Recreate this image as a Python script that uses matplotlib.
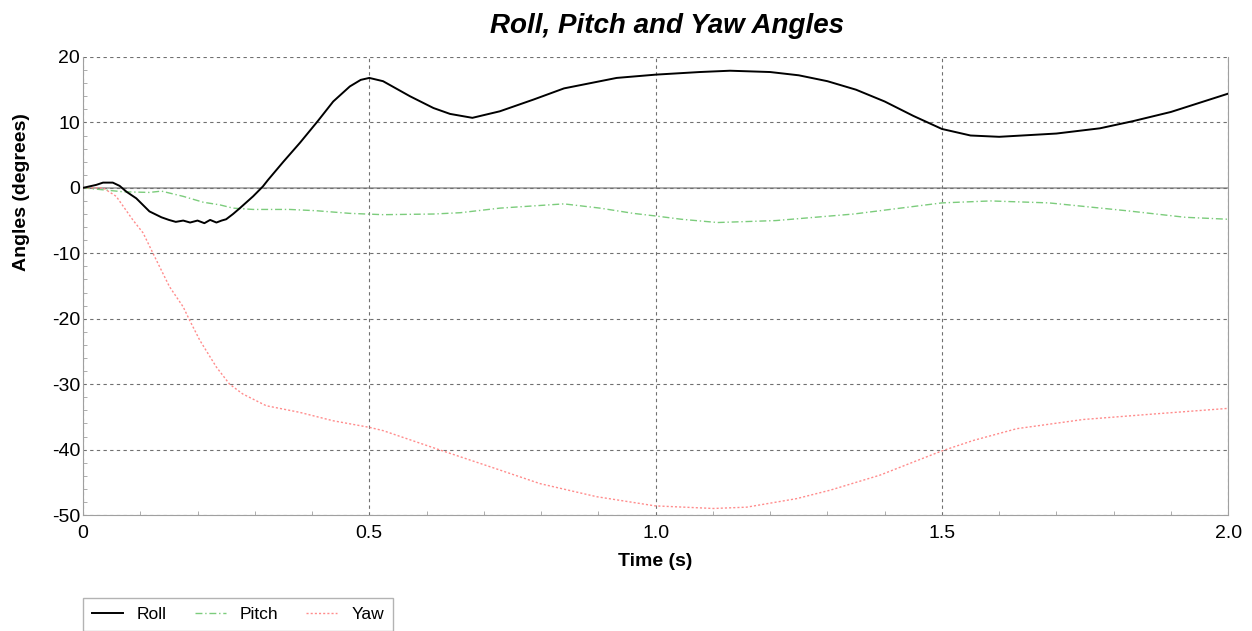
import matplotlib
matplotlib.use("Agg")
import matplotlib.pyplot as plt
from matplotlib.ticker import MultipleLocator, FixedFormatter, FixedLocator
import numpy as np

plt.rcParams['font.family'] = ['Liberation Sans', 'DejaVu Sans']
plt.rcParams['axes.unicode_minus'] = False

# values
roll_t = [0.0, 0.023, 0.035, 0.052, 0.064, 0.076, 0.093, 0.116, 0.137, 0.15, 0.162,
          0.175, 0.187, 0.2, 0.212, 0.222, 0.233, 0.242, 0.25, 0.262, 0.274, 0.297,
          0.314, 0.323, 0.35, 0.379, 0.41, 0.437, 0.466, 0.485, 0.5, 0.524, 0.571, 0.612,
          0.641, 0.68, 0.728, 0.787, 0.84, 0.932, 1.0, 1.077, 1.13, 1.2, 1.25, 1.3,
          1.35, 1.4, 1.45, 1.5, 1.55, 1.6, 1.7, 1.776, 1.834, 1.9, 2.0]
roll = [0.0, 0.45, 0.8, 0.8, 0.3, -0.6, -1.6, -3.6, -4.5, -4.9, -5.2,
        -5.0, -5.3, -5.0, -5.4, -4.9, -5.3, -5.0, -4.8, -4.0, -3.1, -1.3,
        0.2, 1.2, 4.0, 6.9, 10.2, 13.2, 15.5, 16.5, 16.8, 16.3, 14.0, 12.2,
        11.3, 10.7, 11.7, 13.5, 15.2, 16.8, 17.3, 17.7, 17.9, 17.7, 17.2, 16.3,
        15.0, 13.2, 11.0, 9.0, 8.0, 7.8, 8.3, 9.1, 10.2, 11.6, 14.4]

pitch_t = [0.0, 0.035, 0.07, 0.116, 0.137, 0.175, 0.21, 0.239, 0.262, 0.297, 0.361,
           0.408, 0.466, 0.524, 0.612, 0.659, 0.728, 0.84, 0.903, 0.961, 1.0, 1.045,
           1.108, 1.21, 1.346, 1.5, 1.585, 1.687, 1.823, 1.925, 2.0]
pitch = [0.0, -0.3, -0.6, -0.7, -0.5, -1.3, -2.2, -2.6, -3.1, -3.3, -3.3,
         -3.5, -3.9, -4.1, -4.0, -3.8, -3.1, -2.45, -3.1, -3.9, -4.3, -4.8,
         -5.3, -5.0, -4.0, -2.3, -2.0, -2.3, -3.5, -4.5, -4.8]

yaw_t = [0.0, 0.035, 0.058, 0.087, 0.105, 0.125, 0.151, 0.175, 0.186, 0.204, 0.233,
         0.256, 0.279, 0.32, 0.378, 0.437, 0.5, 0.524, 0.618, 0.717, 0.798, 0.897,
         0.999, 1.101, 1.159, 1.246, 1.305, 1.392, 1.456, 1.5, 1.555, 1.631, 1.747,
         1.864, 2.0]
yaw = [0.0, 0.0, -1.3, -4.9, -6.9, -10.5, -15.1, -18.2, -20.2, -23.3, -27.4,
       -30.0, -31.5, -33.3, -34.3, -35.6, -36.6, -37.1, -39.9, -42.8, -45.2, -47.2,
       -48.6, -49.0, -48.8, -47.5, -46.2, -43.9, -41.7, -40.2, -38.6, -36.8, -35.4,
       -34.6, -33.7]

fig = plt.figure(figsize=(12.52, 6.31), dpi=100)
ax = fig.add_axes([0.0663, 0.1838, 0.9147, 0.7259])

ax.axhline(0, color='#a0a0a0', lw=1.2, zorder=1)
l1, = ax.plot(roll_t, roll, color='black', lw=1.4, label='Roll', zorder=4)
l2, = ax.plot(pitch_t, pitch, color='#7ccc7c', lw=1.0, ls=(0, (5, 2, 1, 2)), label='Pitch', zorder=3)
l3, = ax.plot(yaw_t, yaw, color='#ff8c8c', lw=1.0, ls=(0, (1.5, 1.5)), label='Yaw', zorder=3)

ax.set_xlim(0, 2.0)
ax.set_ylim(-50, 20)
ax.xaxis.set_major_locator(FixedLocator([0, 0.5, 1.0, 1.5, 2.0]))
ax.xaxis.set_major_formatter(FixedFormatter(['0', '0.5', '1.0', '1.5', '2.0']))
ax.xaxis.set_minor_locator(MultipleLocator(0.1))
ax.yaxis.set_major_locator(MultipleLocator(10))
ax.yaxis.set_minor_locator(MultipleLocator(2))
ax.tick_params(which='both', direction='in', color='#a0a0a0', labelsize=14)
ax.tick_params(axis='y', which='major', length=0, pad=2)
ax.tick_params(axis='x', which='major', length=0, pad=7)
ax.tick_params(which='minor', length=3)

ax.grid(True, which='major', color='#707070', ls=(0, (3, 3)), lw=0.8)
for s in ['left', 'right', 'bottom']:
    ax.spines[s].set_color('#a0a0a0')
ax.spines['top'].set_visible(False)

ax.set_xlabel('Time (s)', fontsize=14, fontweight='bold', labelpad=8)
ax.set_ylabel('Angles (degrees)', fontsize=14, fontweight='bold')
ax.yaxis.set_label_coords(-0.046, 0.705)
fig.suptitle('Roll, Pitch and Yaw Angles', fontsize=20, fontweight='bold',
             style='italic', x=0.533, y=0.98)

leg = fig.legend(handles=[l1, l2, l3], loc='upper left', bbox_to_anchor=(0.0663, 0.052),
                 ncol=3, frameon=True, fancybox=False, fontsize=12.5, handlelength=1.8,
                 handletextpad=0.8, columnspacing=1.6, borderaxespad=0, borderpad=0.5)
leg.get_frame().set_edgecolor('#a0a0a0')
leg.get_frame().set_linewidth(1.0)

fig.savefig('out.png', dpi=100)
